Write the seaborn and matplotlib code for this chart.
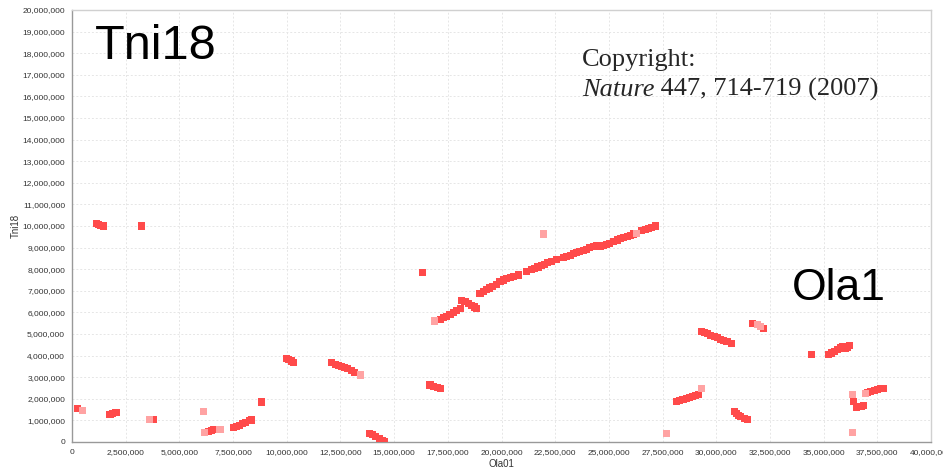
import matplotlib
matplotlib.use("Agg")
import matplotlib.pyplot as plt
import matplotlib.ticker as mticker
import numpy as np
import pandas as pd
import seaborn as sns

# Syntenic hit positions (bp) between Ola chromosome 1 (x) and Tni chromosome 18 (y)
strong_x = [
    0.25e6, 1.15e6, 1.25e6, 1.35e6, 1.46e6, 3.25e6,
    1.77e6, 1.90e6, 2.05e6, 3.72e6, 3.80e6,
    6.35e6, 6.50e6, 6.60e6,
    7.51e6, 7.65e6, 7.80e6, 7.95e6, 8.10e6, 8.25e6, 8.37e6, 8.83e6,
    10.00e6, 10.10e6, 10.20e6, 10.31e6,
    12.09e6, 12.25e6, 12.40e6, 12.55e6, 12.70e6, 12.85e6, 13.00e6, 13.15e6,
    13.87e6, 14.00e6, 14.15e6, 14.30e6, 14.45e6, 14.57e6,
    16.33e6, 16.67e6, 16.85e6, 17.00e6, 17.14e6,
    17.14e6, 17.30e6, 17.45e6, 17.60e6, 17.75e6, 17.90e6, 18.07e6,
    18.15e6, 18.30e6, 18.45e6, 18.60e6, 18.75e6, 18.84e6,
    19.00e6, 19.15e6, 19.30e6, 19.45e6, 19.60e6, 19.75e6, 19.93e6,
    20.10e6, 20.25e6, 20.40e6, 20.55e6, 20.78e6, 21.17e6,
    21.40e6, 21.55e6, 21.70e6, 21.85e6, 22.00e6, 22.15e6, 22.34e6, 22.57e6,
    22.88e6, 23.03e6, 23.20e6, 23.35e6, 23.50e6, 23.65e6, 23.81e6, 23.95e6,
    24.10e6, 24.27e6, 24.43e6, 24.59e6, 24.75e6, 24.90e6, 25.05e6, 25.21e6,
    25.40e6, 25.55e6, 25.70e6, 25.85e6, 26.00e6, 26.14e6,
    26.53e6, 26.70e6, 26.85e6, 27.00e6, 27.15e6,
    28.13e6, 28.30e6, 28.45e6, 28.60e6, 28.75e6, 28.90e6, 29.05e6, 29.16e6,
    29.32e6, 29.45e6, 29.60e6, 29.75e6, 29.90e6, 30.05e6, 30.20e6, 30.35e6,
    30.50e6, 30.72e6,
    30.87e6, 30.95e6, 31.05e6, 31.15e6, 31.30e6, 31.44e6,
    31.69e6, 32.22e6, 34.44e6,
    35.22e6, 35.35e6, 35.50e6, 35.65e6, 35.80e6, 35.90e6, 36.00e6, 36.10e6,
    36.22e6,
    36.41e6, 36.54e6, 36.65e6, 36.75e6, 36.85e6,
    37.05e6, 37.20e6, 37.35e6, 37.50e6, 37.65e6, 37.78e6,
]
strong_y = [
    1.53e6, 10.12e6, 10.08e6, 10.04e6, 10.00e6, 10.00e6,
    1.28e6, 1.31e6, 1.37e6, 1.03e6, 1.03e6,
    0.50e6, 0.53e6, 0.56e6,
    0.68e6, 0.72e6, 0.78e6, 0.85e6, 0.92e6, 0.98e6, 1.02e6, 1.85e6,
    3.87e6, 3.82e6, 3.75e6, 3.69e6,
    3.67e6, 3.60e6, 3.55e6, 3.50e6, 3.45e6, 3.40e6, 3.30e6, 3.22e6,
    0.40e6, 0.33e6, 0.25e6, 0.17e6, 0.08e6, 0.02e6,
    7.84e6, 2.64e6, 2.58e6, 2.53e6, 2.49e6,
    5.68e6, 5.76e6, 5.83e6, 5.90e6, 5.98e6, 6.07e6, 6.19e6,
    6.57e6, 6.50e6, 6.42e6, 6.33e6, 6.25e6, 6.19e6,
    6.88e6, 6.97e6, 7.05e6, 7.13e6, 7.22e6, 7.30e6, 7.42e6,
    7.50e6, 7.56e6, 7.62e6, 7.67e6, 7.73e6, 7.88e6,
    7.98e6, 8.04e6, 8.10e6, 8.16e6, 8.22e6, 8.29e6, 8.35e6, 8.43e6,
    8.53e6, 8.58e6, 8.65e6, 8.72e6, 8.76e6, 8.82e6, 8.86e6, 8.93e6,
    9.00e6, 9.07e6, 9.10e6, 9.04e6, 9.10e6, 9.16e6, 9.21e6, 9.27e6,
    9.35e6, 9.42e6, 9.47e6, 9.53e6, 9.58e6, 9.63e6,
    9.78e6, 9.84e6, 9.90e6, 9.95e6, 10.00e6,
    1.87e6, 1.92e6, 1.97e6, 2.02e6, 2.07e6, 2.12e6, 2.17e6, 2.21e6,
    5.11e6, 5.07e6, 5.01e6, 4.95e6, 4.88e6, 4.82e6, 4.76e6, 4.70e6,
    4.64e6, 4.57e6,
    1.40e6, 1.30e6, 1.22e6, 1.17e6, 1.10e6, 1.05e6,
    5.49e6, 5.26e6, 4.03e6,
    4.06e6, 4.12e6, 4.20e6, 4.28e6, 4.35e6, 4.42e6, 4.32e6, 4.38e6,
    4.47e6,
    1.87e6, 1.61e6, 1.66e6, 1.65e6, 1.67e6,
    2.30e6, 2.34e6, 2.38e6, 2.42e6, 2.46e6, 2.49e6,
]
weak_x = [0.47e6, 3.60e6, 6.11e6, 6.19e6, 6.89e6, 13.45e6, 16.87e6,
          21.95e6, 26.30e6, 27.69e6, 29.32e6, 31.90e6, 32.05e6,
          36.33e6, 36.93e6, 36.35e6]
weak_y = [1.45e6, 1.05e6, 1.42e6, 0.46e6, 0.59e6, 3.10e6, 5.60e6,
          9.63e6, 9.65e6, 0.40e6, 2.49e6, 5.42e6, 5.36e6,
          2.22e6, 2.25e6, 0.45e6]

x_ticks = np.arange(0, 40_000_001, 2_500_000)
y_ticks = np.arange(0, 20_000_001, 1_000_000)

hits = pd.concat([
    pd.DataFrame({"Ola01": strong_x, "Tni18": strong_y, "score": "high"}),
    pd.DataFrame({"Ola01": weak_x, "Tni18": weak_y, "score": "low"}),
], ignore_index=True)

sns.set_theme(style="white")
plt.rcParams["font.family"] = ["Liberation Sans", "DejaVu Sans"]

W, H = 943, 468
fig = plt.figure(figsize=(W / 100, H / 100), dpi=100)
ax = fig.add_axes([72 / W, 26 / H, 859 / W, 432 / H])

sns.scatterplot(data=hits, x="Ola01", y="Tni18", hue="score",
                palette={"high": "#ff4a4a", "low": "#ffa3a3"},
                hue_order=["low", "high"],
                marker="s", s=26, linewidth=0, legend=False, ax=ax, zorder=3)

ax.set_xlim(0, 40_000_000)
ax.set_ylim(0, 20_000_000)
ax.set_xticks(x_ticks)
ax.set_yticks(y_ticks)
fmt = mticker.FuncFormatter(lambda v, _: f"{int(v):,}")
ax.xaxis.set_major_formatter(fmt)
ax.yaxis.set_major_formatter(fmt)
ax.tick_params(axis="both", labelsize=6, colors="#888888", labelcolor="#333333",
               length=3, width=0.8, direction="out", pad=2)
ax.grid(True, color="#e6e6e6", linestyle=(0, (2, 2)), linewidth=0.7)
ax.set_axisbelow(True)

for side in ("left", "bottom"):
    ax.spines[side].set_color("#999999")
    ax.spines[side].set_linewidth(1.0)
for side in ("top", "right"):
    ax.spines[side].set_color("#d0d0d0")
    ax.spines[side].set_linewidth(1.0)

ax.set_xlabel("Ola01", fontsize=7, color="#333333", labelpad=2)
ax.set_ylabel("Tni18", fontsize=7, color="#333333", labelpad=1)

fig.text(95 / W, 1 - 59 / H, "Tni18", fontsize=35, color="black",
         va="baseline", ha="left")
fig.text(792 / W, 1 - 300 / H, "Ola1", fontsize=32, color="black",
         va="baseline", ha="left")

serif = ["Liberation Serif", "DejaVu Serif"]
fig.text(582 / W, 1 - 66 / H, "Copyright:", fontsize=19,
         family=serif, va="baseline", ha="left")
journal = fig.text(582 / W, 1 - 96 / H, "Nature", fontsize=19, style="italic",
                   family=serif, va="baseline", ha="left")
ax.annotate(" 447, 714-719 (2007)", xy=(1, 0), xycoords=journal,
            fontsize=19, family=serif, va="bottom", ha="left",
            annotation_clip=False)

fig.savefig("out.png", dpi=100)
